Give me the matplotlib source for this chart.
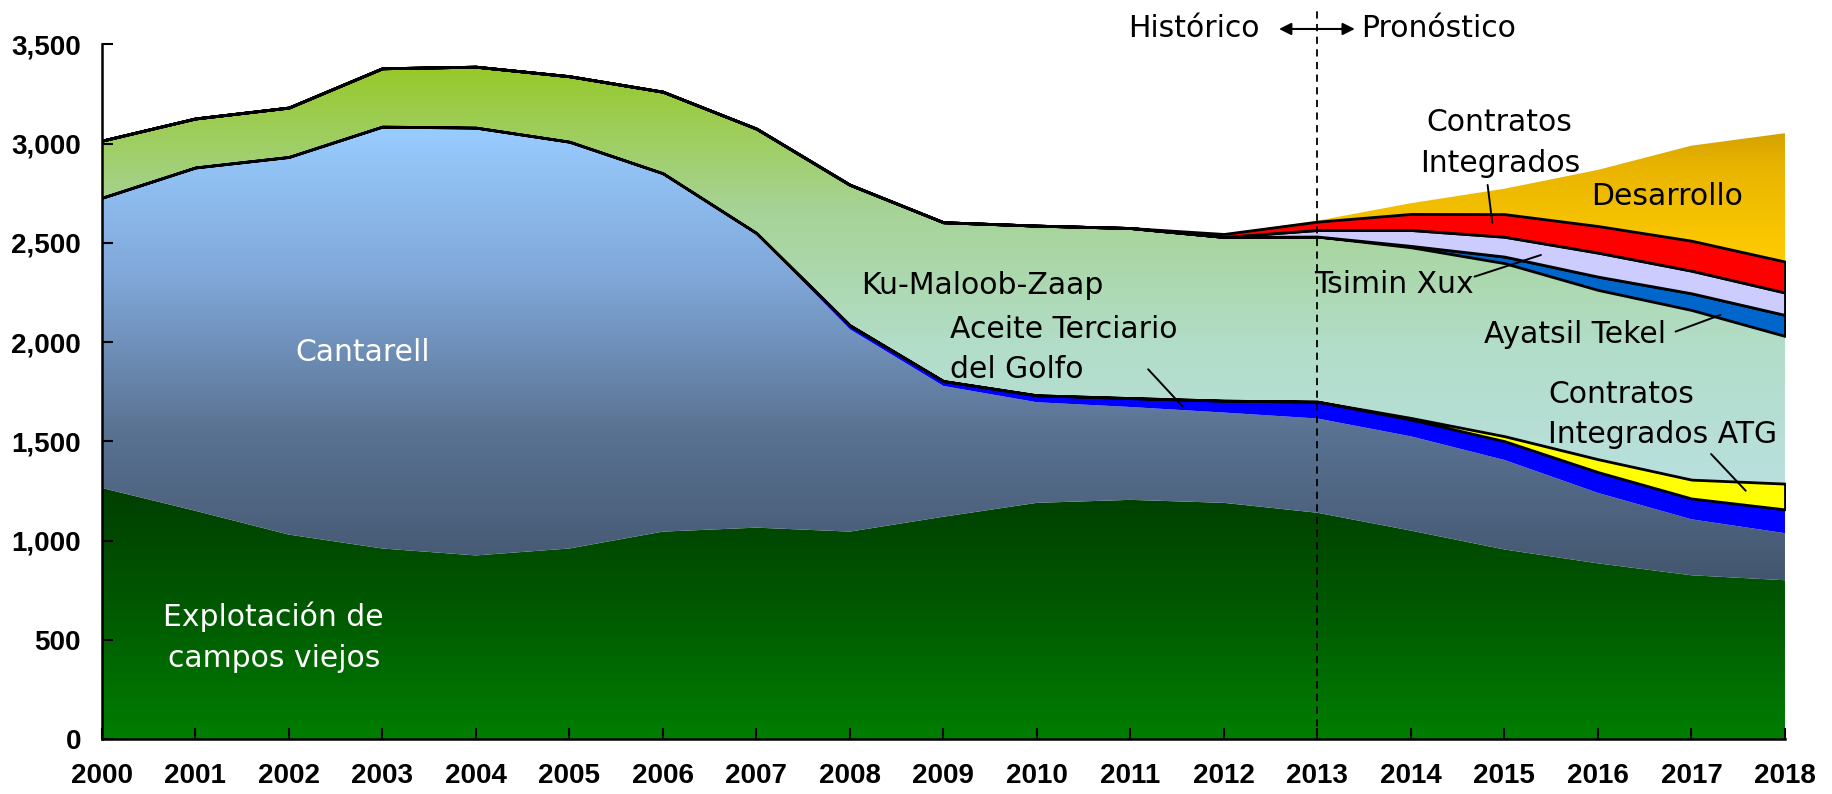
import numpy as np
import matplotlib
matplotlib.use('Agg')
import matplotlib.pyplot as plt
from matplotlib.colors import LinearSegmentedColormap

# data (thousand barrels per day), 2000-2018
years = np.arange(2000, 2019)
explotacion = [1265, 1150, 1030, 960, 925, 960, 1045, 1065, 1045, 1120,
               1190, 1205, 1190, 1140, 1050, 955, 885, 825, 800]
cantarell = [1457, 1725, 1898, 2121, 2151, 2045, 1801, 1480, 1020, 659,
             507, 468, 455, 475, 475, 451, 355, 282, 237]
terciario = [5, 5, 5, 5, 5, 5, 5, 5, 20, 25, 35, 45, 60, 85, 85, 95, 105, 105, 120]
ci_atg = [0] * 13 + [0, 8, 25, 65, 95, 130]
kmz = [288, 247, 249, 294, 307, 330, 411, 526, 708, 800,
       855, 857, 825, 832, 860, 872, 853, 855, 744]
ayatsil = [0] * 13 + [0, 7, 33, 67, 84, 106]
tsimin = [0] * 13 + [33, 80, 100, 121, 114, 113]
ci = [0] * 12 + [15, 42, 81, 114, 134, 151, 156]
desarrollo = [0] * 12 + [0, 5, 54, 128, 283, 479, 647]

ytick_vals = [0, 500, 1000, 1500, 2000, 2500, 3000, 3500]
ytick_labels = ['0', '500', '1,000', '1,500', '2,000', '2,500', '3,000', '3,500']

layers = [explotacion, cantarell, terciario, ci_atg, kmz, ayatsil, tsimin, ci, desarrollo]
solid = ['none', 'none', '#0000FF', '#FFFF00', 'none', '#0066CC', '#CCCCFF', '#FF0000', 'none']
edged = [False, False, False, True, False, True, True, True, False]

gradients = {
    0: ['#007E00', '#005A00', '#003E00'],
    1: ['#43566F', '#5A7393', '#80A7D8', '#99CCFF'],
    4: ['#B9E0DE', '#B2DDC8', '#A6D394', '#97C92A'],
    8: ['#FFCC00', '#E8B400', '#A87C00'],
}

fig = plt.figure(figsize=(18.33, 7.94), dpi=100)
ax = fig.add_axes([0.0555, 0.0693, 0.9183, 0.8747])

polys = ax.stackplot(years, *layers, colors=['none'] * len(layers), linewidth=0)
cum = np.cumsum(np.array(layers, dtype=float), axis=0)
bottoms = np.vstack([np.zeros(len(years)), cum[:-1]])

for i, poly in enumerate(polys):
    poly.set_facecolor(solid[i])
    if edged[i]:
        poly.set_edgecolor('black')
        poly.set_linewidth(2.0)
        poly.set_zorder(2)
    else:
        poly.set_linewidth(0)
        poly.set_zorder(1.5)
    if i in gradients:
        cmap = LinearSegmentedColormap.from_list('g%d' % i, gradients[i])
        grad = np.linspace(0, 1, 256).reshape(-1, 1)
        y0, y1 = bottoms[i].min(), cum[i].max()
        im = ax.imshow(grad, cmap=cmap, aspect='auto', origin='lower',
                       extent=[years[0], years[-1], y0, y1], zorder=1.4)
        im.set_clip_path(poly.get_paths()[0], transform=ax.transData)

ax.set_xlim(2000, 2018)
ax.set_ylim(0, 3500)

# axes cosmetics
for s in ['top', 'right']:
    ax.spines[s].set_visible(False)
for s in ['left', 'bottom']:
    ax.spines[s].set_linewidth(1.8)
    ax.spines[s].set_zorder(5)
ax.set_xticks(years)
ax.set_xticklabels([str(y) for y in years], fontsize=20, fontweight='bold',
                   fontfamily='Liberation Sans')
ax.set_yticks(ytick_vals)
ax.set_yticklabels(ytick_labels, fontsize=20, fontweight='bold',
                   fontfamily='Liberation Sans')
ax.tick_params(axis='both', direction='in', length=8, width=1.5)
ax.tick_params(axis='x', pad=17)
ax.tick_params(axis='y', pad=15)

# historic / forecast divider
ax.plot([2013, 2013], [0, 3680], color='black', lw=1.3, dashes=(4, 3),
        clip_on=False, zorder=6)
ax.annotate('', xy=(2012.56, 3578), xytext=(2013.43, 3578),
            arrowprops=dict(arrowstyle='<|-|>', mutation_scale=18, lw=1.5, color='black'),
            annotation_clip=False)
lbl = dict(fontfamily='DejaVu Sans', fontsize=21.5, zorder=7)
ax.text(2012.38, 3578, 'Histórico', ha='right', va='center', clip_on=False, **lbl)
ax.text(2013.47, 3578, 'Pronóstico', ha='left', va='center', clip_on=False, **lbl)

# series labels (y = baseline of the last line)
ls = 1.5
ax.text(2014.95, 2859, 'Contratos\nIntegrados', ha='center', va='baseline', linespacing=ls, **lbl)
ax.text(2016.74, 2691, 'Desarrollo', ha='center', va='baseline', **lbl)
ax.text(2008.12, 2241, 'Ku-Maloob-Zaap', ha='left', va='baseline', **lbl)
ax.text(2009.07, 1819, 'Aceite Terciario\ndel Golfo', ha='left', va='baseline', linespacing=ls, **lbl)
ax.text(2002.79, 1905, 'Cantarell', ha='center', va='baseline', color='white', **lbl)
ax.text(2001.84, 364, 'Explotación de\ncampos viejos', ha='center', va='baseline',
        color='white', linespacing=ls, **lbl)
ax.text(2012.97, 2249, 'Tsimin Xux', ha='left', va='baseline', **lbl)
ax.text(2014.78, 1996, 'Ayatsil Tekel', ha='left', va='baseline', **lbl)
ax.text(2015.47, 1490, 'Contratos\nIntegrados ATG', ha='left', va='baseline', linespacing=ls, **lbl)

# leader lines
leaders = [((2014.82, 2792), (2014.87, 2602)),
           ((2014.68, 2330), (2015.39, 2439)),
           ((2011.19, 1863), (2011.56, 1675)),
           ((2016.83, 2053), (2017.31, 2137)),
           ((2017.21, 1436), (2017.58, 1251))]
for start, end in leaders:
    ax.annotate('', xy=end, xytext=start,
                arrowprops=dict(arrowstyle='-', lw=1.4, color='black',
                                shrinkA=0, shrinkB=0), zorder=7)

fig.savefig('out.png', dpi=100)
plt.close(fig)
